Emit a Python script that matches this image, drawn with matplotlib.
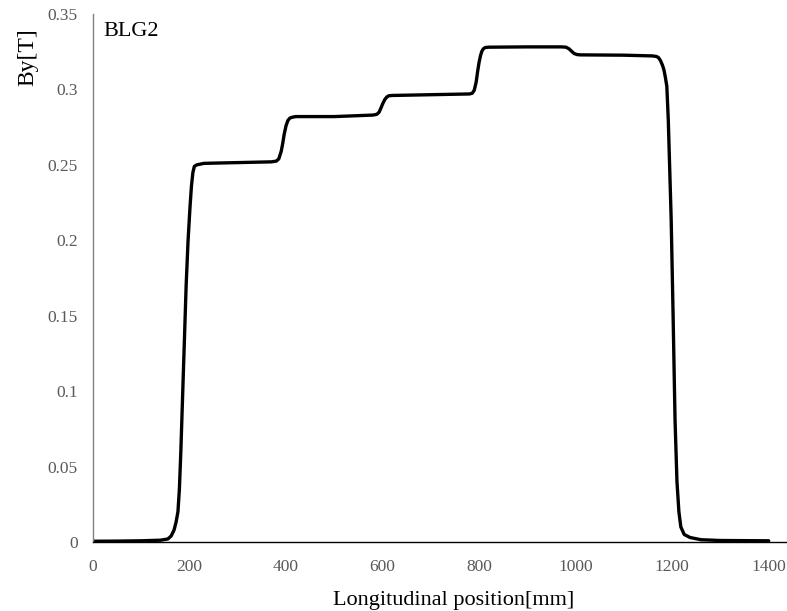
import matplotlib
matplotlib.use("Agg")
import matplotlib.pyplot as plt

# Longitudinal position [mm]
position = [0, 50, 100, 140, 155, 162, 168, 172, 176, 179, 182, 185, 189, 193, 197, 201,
            204, 207, 210, 215, 230, 300, 370, 380, 385, 390, 393, 396, 400, 404, 408, 412,
            420, 500, 580, 588, 593, 597, 601, 605, 609, 613, 620, 700, 780, 786, 790, 794,
            797, 800, 803, 806, 809, 813, 820, 900, 970, 980, 986, 992, 997, 1003, 1010,
            1100, 1160, 1168, 1172, 1176, 1180, 1183, 1186, 1189, 1192, 1194, 1198, 1202,
            1206, 1210, 1214, 1218, 1225, 1237, 1260, 1300, 1400]
# By [T]
by_field = [0.0005, 0.0006, 0.0008, 0.0012, 0.002, 0.004, 0.008, 0.013, 0.02, 0.035, 0.06,
            0.09, 0.13, 0.17, 0.2, 0.222, 0.236, 0.245, 0.249, 0.250, 0.251, 0.2515, 0.252,
            0.2525, 0.254, 0.259, 0.264, 0.270, 0.276, 0.2795, 0.281, 0.2815, 0.282, 0.282,
            0.283, 0.2835, 0.285, 0.288, 0.291, 0.2935, 0.295, 0.2958, 0.296, 0.2965, 0.297,
            0.2975, 0.2995, 0.305, 0.312, 0.318, 0.3225, 0.3255, 0.327, 0.3278, 0.328,
            0.3282, 0.3282, 0.328, 0.327, 0.3252, 0.3238, 0.3231, 0.3229, 0.3227, 0.3222,
            0.3218, 0.321, 0.319, 0.316, 0.313, 0.308, 0.302, 0.28, 0.258, 0.214, 0.15, 0.081,
            0.04, 0.02, 0.01, 0.005, 0.003, 0.0015, 0.001, 0.0008]

x_ticks = [0, 200, 400, 600, 800, 1000, 1200, 1400]
y_ticks = [0, 0.05, 0.1, 0.15, 0.2, 0.25, 0.3, 0.35]
y_tick_labels = ["0", "0.05", "0.1", "0.15", "0.2", "0.25", "0.3", "0.35"]

plt.rcParams['font.family'] = ['Liberation Serif', 'DejaVu Serif']

W, H = 787, 611
fig = plt.figure(figsize=(W / 100, H / 100), dpi=100)
ax = fig.add_axes([93 / W, (H - 542) / H, (787 - 93) / W, (542 - 14) / H])

ax.plot(position, by_field, color='black', linewidth=2.4, solid_capstyle='round',
        solid_joinstyle='round')

ax.set_xlim(0, 1438)
ax.set_ylim(0, 0.35)
ax.set_xticks(x_ticks)
ax.set_xticklabels([str(v) for v in x_ticks])
ax.set_yticks(y_ticks)
ax.set_yticklabels(y_tick_labels)
ax.tick_params(axis='both', length=0, labelsize=12.5, labelcolor='#595959')
ax.tick_params(axis='y', pad=11)
ax.tick_params(axis='x', pad=12)

for s in ['top', 'right']:
    ax.spines[s].set_visible(False)
ax.spines['left'].set_color('#808080')
ax.spines['left'].set_linewidth(1.0)
ax.spines['bottom'].set_color('black')
ax.spines['bottom'].set_linewidth(1.0)

fig.text(28 / W, 1 - 57 / H, "By[T]", rotation=90, ha='center', va='center', fontsize=17,
         color='black')
fig.text(454 / W, 1 - 600 / H, "Longitudinal position[mm]", ha='center', va='center',
         fontsize=16, color='black')
ax.text(103 / W, 1 - 32 / H, "BLG2", transform=fig.transFigure, ha='left', va='center',
        fontsize=16, color='black')

fig.savefig("out.png", dpi=100)
